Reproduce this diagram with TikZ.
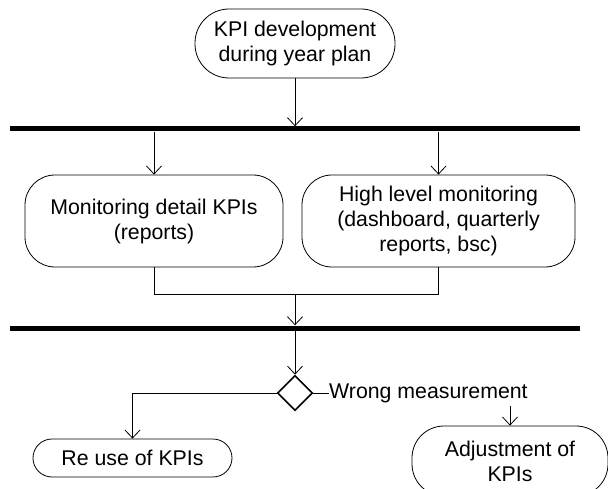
\documentclass[tikz,border=0pt]{standalone}
\usepackage{fontspec}
\setmainfont{Liberation Sans}
\usetikzlibrary{arrows.meta,shapes.geometric}
\begin{document}
\begin{tikzpicture}[x=1pt,y=-1pt,
  every node/.style={font=\fontsize{21.3}{25}\selectfont},
  actbox/.style={draw, line width=0.8pt, align=center, inner sep=0pt},
  syncbar/.style={fill=black, draw=none, inner sep=0pt, minimum width=570pt, minimum height=5pt},
  flow/.style={line width=0.8pt, -{Straight Barb[length=8pt,width=15pt]}},
  plain/.style={line width=0.8pt}]
\useasboundingbox (0,0) rectangle (608,489);
\clip (0,0) rectangle (608,489);

% activities
\node[actbox, minimum width=200pt, minimum height=69pt, rounded corners=34pt]
  (kpi) at (295,43.5) {KPI development\\during year plan};
\node[actbox, minimum width=258pt, minimum height=92pt, rounded corners=30pt]
  (detail) at (154,221) {Monitoring detail KPIs\\(reports)};
\node[actbox, minimum width=273pt, minimum height=92pt, rounded corners=30pt]
  (high) at (438.5,221) {High level monitoring\\(dashboard, quarterly\\reports, bsc)};
\node[actbox, minimum width=199pt, minimum height=38pt, rounded corners=19pt]
  (reuse) at (132.5,458) {Re use of KPIs};
\node[actbox, minimum width=196pt, minimum height=70pt, rounded corners=32pt]
  (adjust) at (510,461) {Adjustment of\\KPIs};

% fork / join bars
\node[syncbar] (fork) at (295,129) {};
\node[syncbar] (join) at (295,328) {};

% decision
\node[draw, diamond, line width=1.6pt, minimum width=35pt, minimum height=35pt, inner sep=0pt]
  (dec) at (295,393) {};
\node[anchor=west, inner xsep=0pt, inner ysep=3pt] (wrong) at (329,393) {Wrong measurement};

\coordinate (merge) at (295,294);

% connectors
\draw[flow] (kpi.south) -- (kpi.south |- fork.north);
\draw[flow] (fork.south -| detail.north) -- (detail.north);
\draw[flow] (fork.south -| high.north) -- (high.north);
\draw[plain] (detail.south) -- (detail.south |- merge) -- (high.south |- merge) -- (high.south);
\draw[flow] (merge) -- (merge |- join.north);
\draw[flow] (join.south -| dec.north) -- (dec.north);
\draw[flow] (dec.west) -| (reuse.north);
\draw[plain] (dec.east) -- (wrong.west);
\draw[flow] (wrong.south -| adjust.north) -- (adjust.north);
\end{tikzpicture}
\end{document}
